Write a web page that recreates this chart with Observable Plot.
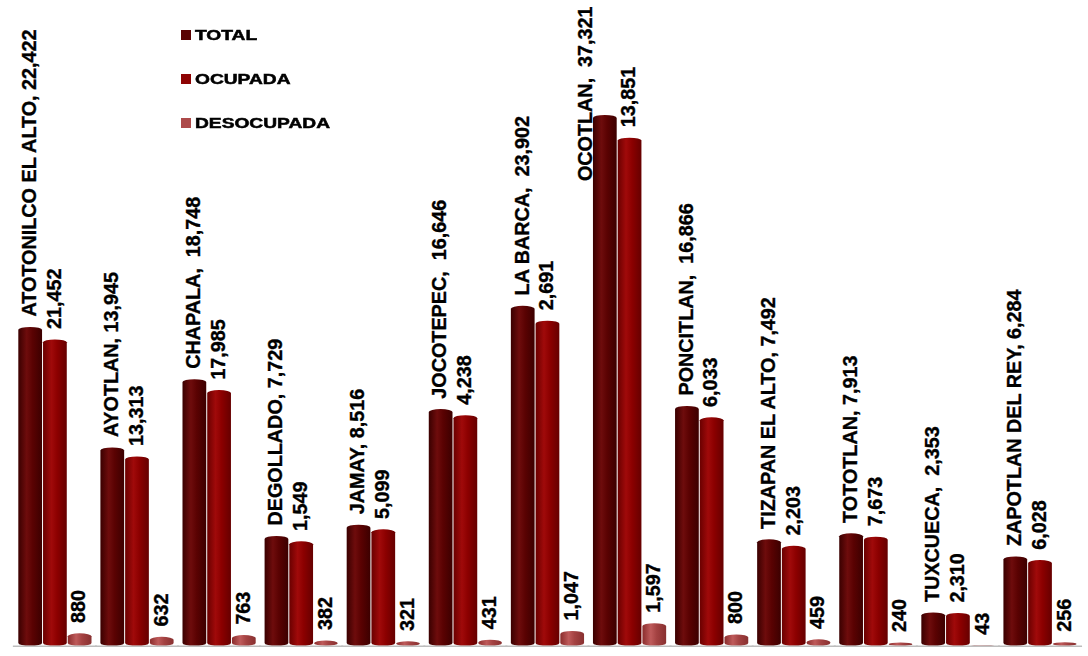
<!DOCTYPE html>
<html>
<head>
<meta charset="utf-8">
<script src="https://cdn.jsdelivr.net/npm/d3@7"></script>
<script src="https://cdn.jsdelivr.net/npm/@observablehq/plot@0.6"></script>
<style>
  html, body { margin: 0; padding: 0; background: #fff; overflow: hidden; }
  #wrap { position: relative; width: 1088px; height: 656px; overflow: hidden; }
  #wrap svg text { white-space: pre; }
  #legend { position: absolute; left: 181px; top: 28px; font-family: "Liberation Sans", Arial, sans-serif; font-weight: bold; font-size: 14px; color: #000; -webkit-text-stroke: 0.5px #000; }
  .item { height: 44px; display: flex; align-items: flex-start; }
  .sw { width: 10px; height: 10px; margin-top: 2px; margin-right: 4px; filter: blur(0.4px); }
  .lab { display: inline-block; transform: scaleX(1.37); transform-origin: left center; line-height: 14px; }
</style>
</head>
<body>
<div id="wrap"><div id="legend"></div></div>
<script>
// ---- data ----
const municipios = ["ATOTONILCO EL ALTO", "AYOTLAN", "CHAPALA", "DEGOLLADO", "JAMAY", "JOCOTEPEC", "LA BARCA", "OCOTLAN", "PONCITLAN", "TIZAPAN EL ALTO", "TOTOTLAN", "TUXCUECA", "ZAPOTLAN DEL REY"];
const series = ["TOTAL", "OCUPADA", "DESOCUPADA"];
const totalVals = [22422, 13945, 18748, 7729, 8516, 16646, 23902, 37321, 16866, 7492, 7913, 2353, 6284];
const ocupadaVals = [21542, 13313, 17985, 7347, 8195, 16215, 22855, 35724, 16066, 7033, 7673, 2310, 6028];
const desocupadaVals = [880, 632, 763, 382, 321, 431, 1047, 1597, 800, 459, 240, 43, 256];
const totalLabels = ["ATOTONILCO EL ALTO, 22,422", "AYOTLAN, 13,945", "CHAPALA,  18,748", "DEGOLLADO, 7,729", "JAMAY, 8,516", "JOCOTEPEC,  16,646", "LA BARCA,  23,902", "OCOTLAN,  37,321", "PONCITLAN,  16,866", "TIZAPAN EL ALTO, 7,492", "TOTOTLAN, 7,913", "TUXCUECA,  2,353", "ZAPOTLAN DEL REY, 6,284"];
const ocupadaLabels = ["21,452", "13,313", "17,985", "1,549", "5,099", "4,238", "2,691", "13,851", "6,033", "2,203", "7,673", "2,310", "6,028"];
const desocupadaLabels = ["880", "632", "763", "382", "321", "431", "1,047", "1,597", "800", "459", "240", "43", "256"];

const colors = {
  TOTAL: ["#3a0000", "#6e0c0c", "#5a0202", "#3c0000"],
  OCUPADA: ["#6a0000", "#a00a0a", "#8c0000", "#660000"],
  DESOCUPADA: ["#8a2c2c", "#be5a5a", "#a44242", "#883030"]
};
const legendColors = {TOTAL: "#5a0303", OCUPADA: "#8e0303", DESOCUPADA: "#ad4a4a"};

// ---- tidy rows ----
const valsBy = {TOTAL: totalVals, OCUPADA: ocupadaVals, DESOCUPADA: desocupadaVals};
const labsBy = {TOTAL: totalLabels, OCUPADA: ocupadaLabels, DESOCUPADA: desocupadaLabels};
const rows = [];
municipios.forEach((m, i) => series.forEach(s => rows.push({muni: m, series: s, value: valsBy[s][i], label: labsBy[s][i]})));

// ---- layout ----
const W = 1100, H = 656, mTop = 0, mBottom = 3, yMax = 45400;
const fontSize = 20, fontFam = "Liberation Sans, Arial, sans-serif";
const labelGap = 11;

// detect labels that would run off the top of the frame
const ctx = document.createElement("canvas").getContext("2d");
ctx.font = `bold ${fontSize}px ${fontFam}`;
const yPx = v => mTop + (H - mTop - mBottom) * (1 - v / yMax);
rows.forEach(r => { r.over = yPx(r.value) - labelGap - ctx.measureText(r.label).width < 2; });

const textStyle = {fontSize, fontWeight: "bold", fill: "#000", stroke: "#000", strokeWidth: 0.35};

const marks = [];
series.forEach((s, k) => {
  marks.push(Plot.barY(rows.filter(r => r.series === s), {
    fx: "muni", x: "series", y: "value",
    fill: `url(#grad${k})`, insetLeft: 0.5, insetRight: 0.5, rx: 12, ry: 3
  }));
});
marks.push(Plot.ruleY([0], {stroke: "#bdbdbd", strokeWidth: 1.5, insetLeft: -5, insetRight: -5}));
marks.push(Plot.text(rows.filter(r => !r.over), {
  fx: "muni", x: "series", y: "value", text: "label",
  rotate: -90, textAnchor: "start", lineAnchor: "middle", dy: -labelGap, dx: -1,
  ...textStyle
}));
marks.push(Plot.text(rows.filter(r => r.over), {
  fx: "muni", x: "series", text: "label", frameAnchor: "top",
  rotate: -90, textAnchor: "end", lineAnchor: "middle", dy: 6, dx: -20,
  ...textStyle
}));

const chart = Plot.plot({
  width: W, height: H,
  marginLeft: 16, marginRight: 9, marginTop: mTop, marginBottom: mBottom,
  style: {fontFamily: fontFam, background: "transparent", overflow: "visible"},
  fx: {domain: municipios, paddingInner: 0.1, paddingOuter: 0, axis: null, label: null},
  x: {domain: series, padding: 0, axis: null, label: null},
  y: {domain: [0, yMax], axis: null, label: null},
  marks
});

// cylinder-like shading
const defs = d3.select(chart).insert("defs", ":first-child");
series.forEach((s, k) => {
  const g = defs.append("linearGradient").attr("id", `grad${k}`).attr("x1", "0").attr("x2", "1").attr("y1", "0").attr("y2", "0");
  const c = colors[s];
  [[0, c[0]], [0.35, c[1]], [0.6, c[2]], [1, c[3]]].forEach(([o, col]) => g.append("stop").attr("offset", o).attr("stop-color", col));
});

document.getElementById("wrap").prepend(chart);

// legend
const leg = d3.select("#legend");
series.forEach(s => {
  const it = leg.append("div").attr("class", "item");
  it.append("div").attr("class", "sw").style("background", legendColors[s]);
  it.append("span").attr("class", "lab").text(s);
});
</script>
</body>
</html>
